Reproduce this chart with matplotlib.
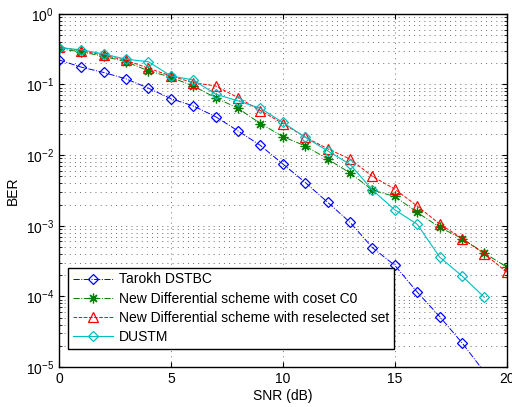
import numpy as np
import matplotlib
matplotlib.use("Agg")
import matplotlib.pyplot as plt
from matplotlib.ticker import LogLocator, NullFormatter

plt.rcParams['font.family'] = ['Liberation Sans', 'DejaVu Sans']

# SNR values (dB)
snr = list(range(0, 21))
snr_tarokh = list(range(0, 20))
snr_dustm = list(range(0, 20))

# BER curves
ber_tarokh = [0.223, 0.176, 0.148, 0.12, 0.0887, 0.063, 0.0497, 0.035, 0.022, 0.0137,
              0.0075, 0.0041, 0.00215, 0.00112, 0.00049, 0.000275, 0.000115, 5.2e-5,
              2.2e-5, 8.5e-6]
ber_coset = [0.32, 0.29, 0.25, 0.21, 0.156, 0.127, 0.095, 0.065, 0.046, 0.028,
             0.0183, 0.0135, 0.0088, 0.0056, 0.0032, 0.0026, 0.00155, 0.00095,
             0.00066, 0.00041, 0.00026]
ber_reselect = [0.34, 0.30, 0.26, 0.22, 0.17, 0.132, 0.106, 0.0955, 0.065, 0.0427,
                0.028, 0.018, 0.0123, 0.0088, 0.005, 0.0033, 0.0019, 0.00106,
                0.00066, 0.0004, 0.00022]
ber_dustm = [0.33, 0.31, 0.27, 0.228, 0.21, 0.132, 0.116, 0.073, 0.0586, 0.046,
             0.029, 0.0179, 0.0115, 0.0074, 0.0032, 0.00168, 0.00105, 0.00036,
             0.000195, 9.7e-5]

labels = ['Tarokh DSTBC', 'New Differential scheme with coset C0',
          'New Differential scheme with reselected set', 'DUSTM']

fig = plt.figure(figsize=(5.12, 4.07), dpi=100)
ax = fig.add_axes([0.115, 0.098, 0.875, 0.868])

ax.semilogy(snr_tarokh, ber_tarokh, '-.', color='blue', marker='D', ms=5.5,
            mfc='none', mew=0.9, lw=0.7, label=labels[0])
ax.semilogy(snr, ber_coset, '-.', color='#008000', marker=(8, 2, 0), ms=7,
            mfc='none', mew=0.9, lw=0.7, label=labels[1])
ax.semilogy(snr, ber_reselect, '--', color='red', marker='^', ms=7,
            mfc='none', mew=0.9, lw=0.7, label=labels[2])
ax.semilogy(snr_dustm, ber_dustm, '-', color='#00BFBF', marker='D', ms=5.5,
            mfc='none', mew=0.9, lw=0.8, label=labels[3])

ax.set_xlim(0, 20)
ax.set_ylim(1e-5, 1)
ax.set_xticks([0, 5, 10, 15, 20])
ax.yaxis.set_major_locator(LogLocator(base=10, numticks=10))
ax.yaxis.set_minor_locator(LogLocator(base=10, subs=np.arange(2, 10), numticks=20))
ax.yaxis.set_minor_formatter(NullFormatter())

grid_style = dict(linestyle=(0, (1.4, 6)), color='#333333', lw=0.5)
ax.grid(True, which='major', **grid_style)
ax.grid(True, which='minor', axis='y', **grid_style)

ax.tick_params(which='both', direction='in', top=True, right=True, labelsize=10)
for s in ax.spines.values():
    s.set_linewidth(1.0)

ax.set_xlabel('SNR (dB)', fontsize=10, labelpad=2)
ax.set_ylabel('BER', fontsize=10, labelpad=4)

leg = ax.legend(loc='lower left', bbox_to_anchor=(0.02, 0.051), borderaxespad=0,
                fontsize=10, fancybox=False, edgecolor='black', framealpha=1,
                borderpad=0.35, labelspacing=0.38, handlelength=2.9, handletextpad=0.45)
leg.get_frame().set_linewidth(1.0)

fig.savefig('out.png', dpi=100)
